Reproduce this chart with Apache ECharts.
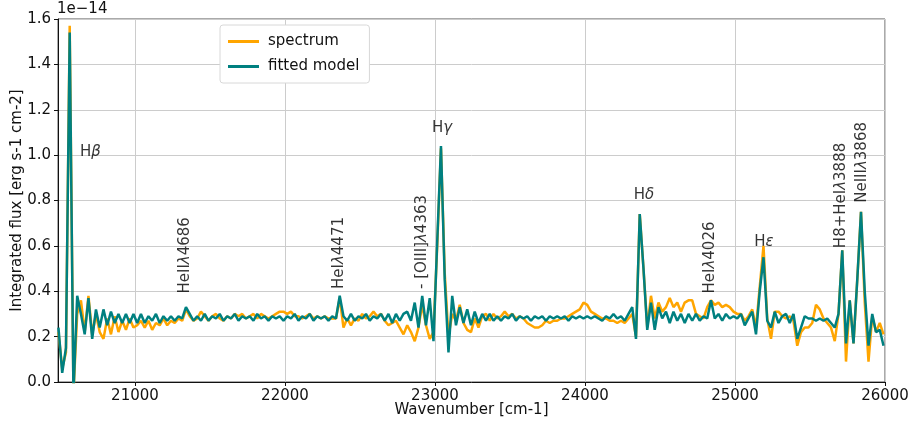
<!DOCTYPE html>
<html>
<head>
<meta charset="utf-8">
<script src="https://cdn.jsdelivr.net/npm/echarts@6/dist/echarts.min.js"></script>
<style>
  html, body { margin: 0; padding: 0; background: #fff; }
  #main { width: 911px; height: 421px; }
</style>
</head>
<body>
<div id="main"></div>
<script>
// wavenumber grid [cm-1]
var wavenumber = [
    20490,20515,20540,20565,20590,20615,20640,20665,20690,20715,
    20740,20765,20790,20815,20840,20865,20890,20915,20940,20965,
    20990,21015,21040,21065,21090,21115,21140,21165,21190,21215,
    21240,21265,21290,21315,21340,21365,21390,21415,21440,21465,
    21490,21515,21540,21565,21590,21615,21640,21665,21690,21715,
    21740,21765,21790,21815,21840,21865,21890,21915,21940,21965,
    21990,22015,22040,22065,22090,22115,22140,22165,22190,22215,
    22240,22265,22290,22315,22340,22365,22390,22415,22440,22465,
    22490,22515,22540,22565,22590,22615,22640,22665,22690,22715,
    22740,22765,22790,22815,22840,22865,22890,22915,22940,22965,
    22990,23015,23040,23065,23090,23115,23140,23165,23190,23215,
    23240,23265,23290,23315,23340,23365,23390,23415,23440,23465,
    23490,23515,23540,23565,23590,23615,23640,23665,23690,23715,
    23740,23765,23790,23815,23840,23865,23890,23915,23940,23965,
    23990,24015,24040,24065,24090,24115,24140,24165,24190,24215,
    24240,24265,24290,24315,24340,24365,24390,24415,24440,24465,
    24490,24515,24540,24565,24590,24615,24640,24665,24690,24715,
    24740,24765,24790,24815,24840,24865,24890,24915,24940,24965,
    24990,25015,25040,25065,25090,25115,25140,25165,25190,25215,
    25240,25265,25290,25315,25340,25365,25390,25415,25440,25465,
    25490,25515,25540,25565,25590,25615,25640,25665,25690,25715,
    25740,25765,25790,25815,25840,25865,25890,25915,25940,25965,25990
];

// observed spectrum (units of 1e-14 erg s-1 cm-2)
var spectrum = [
    0.22,0.06,0.13,1.57,-0.05,0.30,0.36,0.22,0.38,0.21,
    0.30,0.22,0.19,0.28,0.21,0.29,0.22,0.27,0.23,0.28,
    0.24,0.25,0.27,0.24,0.27,0.23,0.26,0.25,0.28,0.25,
    0.27,0.26,0.28,0.27,0.32,0.29,0.27,0.28,0.31,0.29,
    0.27,0.29,0.30,0.28,0.27,0.29,0.28,0.30,0.29,0.30,
    0.28,0.29,0.30,0.28,0.30,0.29,0.28,0.29,0.30,0.31,
    0.31,0.30,0.31,0.29,0.29,0.28,0.29,0.30,0.28,0.29,
    0.28,0.29,0.28,0.28,0.28,0.37,0.24,0.28,0.25,0.28,
    0.27,0.30,0.28,0.29,0.31,0.29,0.30,0.27,0.25,0.26,
    0.27,0.24,0.21,0.25,0.22,0.18,0.24,0.34,0.25,0.19,
    0.22,0.60,1.03,0.48,0.20,0.30,0.27,0.34,0.26,0.23,
    0.22,0.28,0.24,0.29,0.30,0.27,0.30,0.28,0.29,0.31,
    0.29,0.30,0.28,0.29,0.28,0.26,0.25,0.24,0.24,0.25,
    0.27,0.26,0.27,0.27,0.28,0.28,0.29,0.30,0.31,0.32,
    0.35,0.34,0.31,0.30,0.29,0.28,0.28,0.27,0.27,0.26,
    0.27,0.26,0.28,0.30,0.20,0.74,0.50,0.24,0.38,0.28,
    0.35,0.31,0.33,0.37,0.33,0.35,0.31,0.35,0.36,0.36,
    0.30,0.29,0.28,0.33,0.36,0.34,0.35,0.33,0.34,0.33,
    0.31,0.30,0.30,0.27,0.29,0.32,0.24,0.42,0.60,0.28,
    0.19,0.31,0.31,0.29,0.28,0.29,0.27,0.16,0.22,0.24,
    0.24,0.26,0.34,0.32,0.28,0.26,0.24,0.18,0.30,0.58,
    0.09,0.36,0.17,0.45,0.75,0.35,0.09,0.29,0.22,0.26,0.21
];

// fitted model
var fitted = [
    0.24,0.04,0.15,1.54,-0.05,0.38,0.30,0.21,0.37,0.19,
    0.32,0.24,0.32,0.25,0.31,0.26,0.30,0.26,0.30,0.26,
    0.30,0.26,0.30,0.26,0.29,0.27,0.30,0.26,0.29,0.27,
    0.29,0.27,0.29,0.28,0.33,0.30,0.27,0.29,0.27,0.30,
    0.27,0.29,0.28,0.30,0.27,0.29,0.28,0.30,0.27,0.29,
    0.28,0.29,0.27,0.30,0.28,0.29,0.27,0.29,0.28,0.29,
    0.27,0.29,0.28,0.30,0.27,0.29,0.28,0.30,0.27,0.29,
    0.28,0.29,0.27,0.29,0.28,0.38,0.29,0.27,0.30,0.27,
    0.29,0.28,0.30,0.27,0.29,0.28,0.30,0.27,0.30,0.26,
    0.30,0.27,0.30,0.31,0.27,0.35,0.24,0.38,0.25,0.37,
    0.18,0.62,1.04,0.45,0.13,0.38,0.25,0.33,0.26,0.32,
    0.25,0.31,0.26,0.30,0.27,0.30,0.27,0.29,0.27,0.29,
    0.28,0.30,0.27,0.29,0.28,0.29,0.27,0.29,0.28,0.29,
    0.27,0.29,0.28,0.29,0.28,0.29,0.27,0.29,0.28,0.29,
    0.28,0.29,0.28,0.29,0.28,0.27,0.29,0.28,0.30,0.28,
    0.29,0.27,0.30,0.33,0.19,0.74,0.50,0.23,0.35,0.23,
    0.33,0.28,0.31,0.26,0.31,0.27,0.30,0.26,0.30,0.27,
    0.30,0.27,0.29,0.28,0.36,0.28,0.30,0.27,0.30,0.28,
    0.29,0.28,0.30,0.25,0.28,0.31,0.21,0.40,0.55,0.27,
    0.24,0.31,0.26,0.29,0.30,0.26,0.30,0.19,0.24,0.29,
    0.28,0.28,0.27,0.28,0.27,0.28,0.26,0.24,0.30,0.58,
    0.17,0.36,0.17,0.45,0.75,0.40,0.16,0.30,0.22,0.23,0.16
];

var xTicks = [21000, 22000, 23000, 24000, 25000, 26000];

// line annotations: text, wavenumber, flux, rotated?
var lineNames = ['H{g|β}', 'H{g|γ}', 'H{g|δ}', 'H{g|ε}',
    'HeII{g|λ}4686', 'HeI{g|λ}4471', '- [OIII]{g|λ}4363', 'HeI{g|λ}4026',
    'H8+HeI{g|λ}3888', 'NeIII{g|λ}3868'];
var lineX = [20633, 23047, 24393, 25193, 21333, 22362, 22912, 24833, 25705, 25845];
var lineY = [1.015, 1.12, 0.824, 0.618, 0.39, 0.41, 0.41, 0.39, 0.59, 0.79];
var lineRot = [0, 0, 0, 0, 1, 1, 1, 1, 1, 1];

window.onload = function() {
    var myChart = echarts.init(document.getElementById('main'));

    var specData = [], fitData = [];
    wavenumber.forEach(function(w, i) {
        specData.push([w, spectrum[i]]);
        fitData.push([w, fitted[i]]);
    });

    var labels = [];
    lineNames.forEach(function(name, i) {
        var rotated = lineRot[i] == 1;
        labels.push({
            value: [lineX[i], lineY[i]],
            label: {
                show: true,
                position: 'inside',
                formatter: name,
                rotate: rotated ? 90 : 0,
                align: (rotated || i == 0) ? 'left' : 'center',
                verticalAlign: 'middle'
            }
        });
    });

    var axisColor = '#111';

    option = {
        animation: false,
        textStyle: { fontFamily: 'DejaVu Sans' },
        grid: {
            left: 58, right: 26, top: 19, bottom: 39,
            outerBoundsMode: 'none',
            containLabel: false,
            show: true, borderColor: '#555', borderWidth: 1
        },
        graphic: [{
            type: 'text', left: 57, top: 2,
            style: { text: '1e\u221214', fontSize: 15, fill: axisColor, fontFamily: 'DejaVu Sans' }
        }],
        legend: {
            orient: 'vertical',
            left: 220, top: 25,
            data: [{ name: 'spectrum', icon: 'rect' }, { name: 'fitted model', icon: 'rect' }],
            itemWidth: 31, itemHeight: 3, itemGap: 10,
            padding: [9, 10, 9, 8],
            backgroundColor: '#fff',
            borderColor: '#d8d8d8', borderWidth: 1, borderRadius: 3,
            textStyle: { fontSize: 15, color: axisColor, fontFamily: 'DejaVu Sans', padding: [0, 0, 0, 4] }
        },
        xAxis: {
            type: 'value',
            min: 20487, max: 26000,
            name: 'Wavenumber [cm-1]',
            nameLocation: 'middle', nameGap: 21,
            nameMoveOverlap: false,
            nameTextStyle: { fontSize: 15, color: axisColor },
            axisLine: { show: true, lineStyle: { color: axisColor } },
            axisTick: { show: true, length: 4, customValues: xTicks, lineStyle: { color: axisColor } },
            axisLabel: {
                customValues: xTicks, fontSize: 15, color: axisColor, margin: 7,
                formatter: function(v) { return String(v); }
            },
            splitLine: { show: true, lineStyle: { color: '#cccccc' } }
        },
        yAxis: {
            type: 'value',
            min: 0, max: 1.6, interval: 0.2,
            name: 'Integrated flux [erg s-1 cm-2]',
            nameLocation: 'middle', nameGap: 33,
            nameMoveOverlap: false,
            nameTextStyle: { fontSize: 15, color: axisColor },
            axisLine: { show: true, lineStyle: { color: axisColor } },
            axisTick: { show: true, length: 4, lineStyle: { color: axisColor } },
            axisLabel: {
                fontSize: 15, color: axisColor, margin: 7,
                formatter: function(v) { return v.toFixed(1); }
            },
            splitLine: { show: true, lineStyle: { color: '#cccccc' } }
        },
        series: [{
            name: 'spectrum',
            type: 'line',
            data: specData,
            showSymbol: false,
            symbol: 'none',
            clip: true,
            color: '#ffa500',
            lineStyle: { width: 2.5, color: '#ffa500' }
        }, {
            name: 'fitted model',
            type: 'line',
            data: fitData,
            showSymbol: false,
            symbol: 'none',
            clip: true,
            color: '#008080',
            lineStyle: { width: 2.5, color: '#008080' }
        }, {
            name: 'lines',
            type: 'scatter',
            symbolSize: 0,
            silent: true,
            data: labels,
            label: {
                show: true,
                color: '#000',
                textBorderWidth: 0,
                fontSize: 15,
                fontFamily: 'DejaVu Sans',
                rich: {
                    g: { fontStyle: 'italic', fontSize: 15, color: '#000', textBorderWidth: 0, fontFamily: 'DejaVu Sans' }
                }
            }
        }]
    };

    myChart.setOption(option);
};
</script>
</body>
</html>
